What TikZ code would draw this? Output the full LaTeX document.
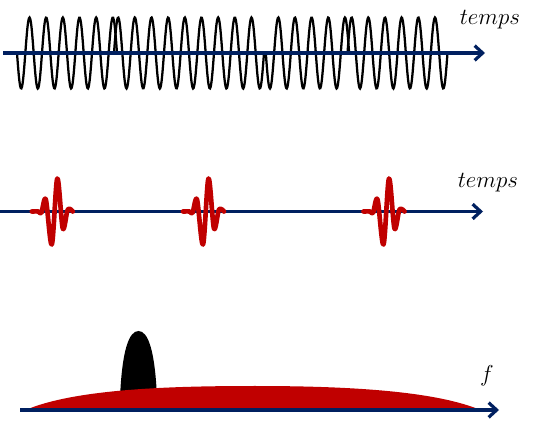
\documentclass[tikz,border=0pt]{standalone}
\usetikzlibrary{arrows.meta}
\definecolor{navy}{RGB}{0,32,96}
\definecolor{pulsered}{RGB}{192,0,0}
\begin{document}
\begin{tikzpicture}[x=0.75pt,y=-0.75pt,
  axis/.style={draw=navy,line width=2.4pt,-{Straight Barb[length=6pt,width=11pt]}},
  wave/.style={draw=black,line width=1.7pt},
  pulseline/.style={draw=pulsered,line width=3.5pt,line cap=round,line join=round},
  lbl/.style={inner sep=0pt,font=\fontsize{17}{20}\selectfont},
  pulse/.pic={\draw[pulseline] plot[smooth,tension=0.55] coordinates
     {(-25.5,0) (-19,0) (-16,1.5) (-11.5,-12) (-5.5,33) (0,-33) (5.5,17) (10.5,-2) (15.5,0)};}]
\useasboundingbox (0,0) rectangle (540,424);
% panel 1: continuous wave
\draw[wave] plot[domain=17:116.9,samples=160,smooth] (\x,{53+35.5*sin(21.6*(\x-17))});
\draw[wave] plot[domain=114:264,samples=240,smooth] (\x,{53-35.5*sin(21.6*(\x-114))});
\draw[wave] plot[domain=265.8:349.1,samples=140,smooth] (\x,{53+35.5*sin(21.6*(\x-265.8))});
\draw[wave] plot[domain=347.5:447.5,samples=160,smooth] (\x,{53-35.5*sin(21.6*(\x-347.5))});
\coordinate (a1s) at (3,53);
\coordinate (a1e) at (485,53);
\draw[axis] (a1s) -- (a1e);
\node[lbl] (t1) at (490,20) {$temps$};
% panel 2: pulses
\coordinate (a2s) at (0,211.5);
\coordinate (a2e) at (483,211.5);
\draw[axis] (a2s) -- (a2e);
\pic (p1) at (57.3,211.5) {pulse};
\pic (p2) at (208.5,211.5) {pulse};
\pic (p3) at (389,211.5) {pulse};
\node[lbl] (t2) at (488,183) {$temps$};
% panel 3: spectra
\fill[black] (120,398) .. controls (122,350) and (129,331) .. (138.5,331) .. controls (148,331) and (155,350) .. (157,398) -- cycle;
\fill[pulsered] (28,409) .. controls (80,388) and (180,386) .. (255,386) .. controls (340,386) and (430,390) .. (478,409) -- cycle;
\coordinate (a3s) at (20,410);
\coordinate (a3e) at (499,410);
\draw[axis] (a3s) -- (a3e);
\node[lbl] (f) at (487,376) {$f$};
\end{tikzpicture}
\end{document}
